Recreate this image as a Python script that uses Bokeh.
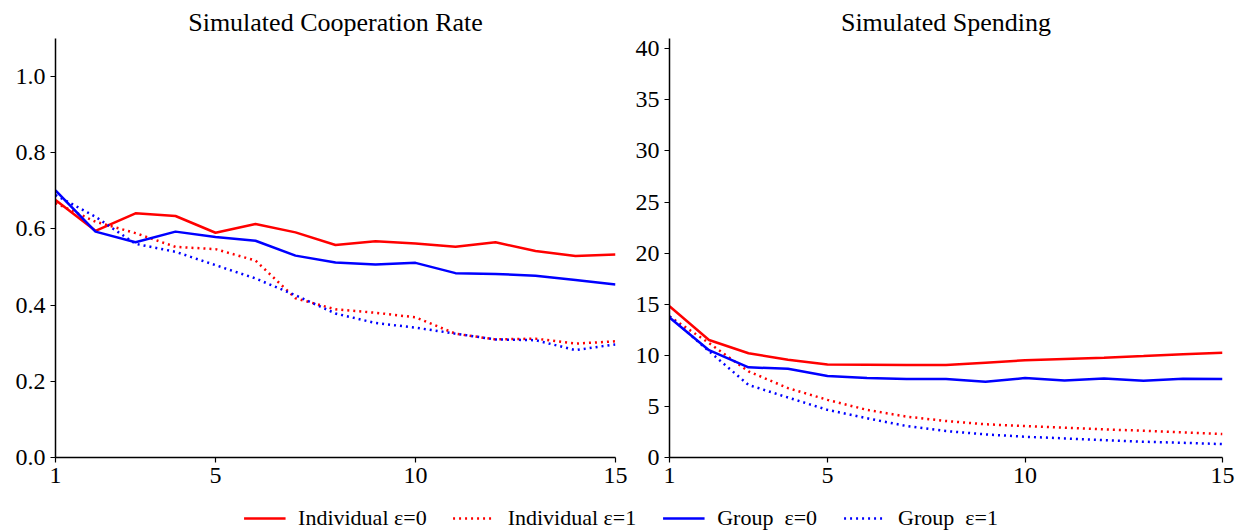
from bokeh.plotting import figure
from bokeh.layouts import column, row
from bokeh.models import Legend, LegendItem, FixedTicker, Range1d, NumeralTickFormatter
from bokeh.embed import file_html
from bokeh.resources import INLINE

rounds = list(range(1, 16))

coop_ind_e0 = [0.676, 0.595, 0.641, 0.634, 0.590, 0.613, 0.591, 0.558, 0.568, 0.562, 0.553, 0.565, 0.542, 0.529, 0.533]
coop_ind_e1 = [0.668, 0.619, 0.589, 0.553, 0.547, 0.517, 0.418, 0.389, 0.380, 0.368, 0.325, 0.310, 0.312, 0.299, 0.305]
coop_grp_e0 = [0.701, 0.593, 0.565, 0.593, 0.579, 0.569, 0.530, 0.512, 0.507, 0.511, 0.484, 0.482, 0.477, 0.466, 0.454]
coop_grp_e1 = [0.689, 0.632, 0.561, 0.540, 0.505, 0.470, 0.426, 0.378, 0.353, 0.341, 0.325, 0.310, 0.308, 0.282, 0.297]

spend_ind_e0 = [14.8, 11.5, 10.2, 9.57, 9.11, 9.08, 9.05, 9.05, 9.28, 9.51, 9.64, 9.77, 9.93, 10.1, 10.26]
spend_ind_e1 = [13.8, 11.2, 8.43, 6.79, 5.64, 4.66, 4.0, 3.57, 3.25, 3.08, 2.92, 2.75, 2.62, 2.46, 2.3]
spend_grp_e0 = [13.7, 10.5, 8.82, 8.69, 7.97, 7.77, 7.67, 7.67, 7.41, 7.77, 7.54, 7.74, 7.51, 7.7, 7.67]
spend_grp_e1 = [13.8, 10.4, 7.1, 5.87, 4.66, 3.84, 3.08, 2.59, 2.26, 2.03, 1.87, 1.7, 1.54, 1.44, 1.31]

x_ticks = [1, 5, 10, 15]
coop_ticks = [0.0, 0.2, 0.4, 0.6, 0.8, 1.0]
spend_ticks = [0, 5, 10, 15, 20, 25, 30, 35, 40]

labels = ["Individual \u03b5=0", "Individual \u03b5=1", "Group  \u03b5=0", "Group  \u03b5=1"]
colors = ["red", "red", "blue", "blue"]
dashes = ["solid", "2 4", "solid", "2 4"]

FONT = "Liberation Serif"
LW = 2.5


def make_fig(title, width, ymax, yticks, border_left, border_right, series, fmt):
    p = figure(width=width, height=495, output_backend="svg", toolbar_location=None,
               x_range=Range1d(1, 15), y_range=Range1d(0, ymax),
               min_border_left=border_left, min_border_right=border_right,
               min_border_top=38, min_border_bottom=38)
    p.title.text = title
    p.title.align = "center"
    p.title.text_font = FONT
    p.title.text_font_size = "26px"
    p.title.text_font_style = "normal"
    p.title.text_color = "black"
    p.title.standoff = 3
    p.outline_line_color = None
    p.grid.visible = False
    p.background_fill_color = "white"
    p.border_fill_color = "white"
    for ax in (p.xaxis, p.yaxis):
        ax.axis_line_color = "black"
        ax.axis_line_width = 1.5
        ax.major_tick_line_color = "black"
        ax.major_tick_line_width = 1.2
        ax.major_tick_out = 5
        ax.major_tick_in = 0
        ax.minor_tick_line_color = None
        ax.major_label_text_font = FONT
        ax.major_label_text_font_size = "24px"
        ax.major_label_text_color = "black"
        ax.major_label_standoff = 5
    p.xaxis.ticker = FixedTicker(ticks=x_ticks)
    p.yaxis.ticker = FixedTicker(ticks=yticks)
    if fmt:
        p.yaxis.formatter = NumeralTickFormatter(format=fmt)
    for ys, c, d in zip(series, colors, dashes):
        p.line(rounds, ys, line_color=c, line_width=LW, line_dash=d)
    return p


p1 = make_fig("Simulated Cooperation Rate", 630, 1.1, coop_ticks, 55, 15,
              [coop_ind_e0, coop_ind_e1, coop_grp_e0, coop_grp_e1], "0.0")
p2 = make_fig("Simulated Spending", 611, 41, spend_ticks, 39, 19,
              [spend_ind_e0, spend_ind_e1, spend_grp_e0, spend_grp_e1], None)

pl = figure(width=1241, height=36, output_backend="svg", toolbar_location=None,
            x_axis_location=None, y_axis_location=None,
            x_range=Range1d(0, 1), y_range=Range1d(0, 1),
            min_border_left=0, min_border_right=0, min_border_top=10, min_border_bottom=0)
pl.outline_line_color = None
pl.grid.visible = False
items = []
for lab, c, d in zip(labels, colors, dashes):
    r = pl.line([-5, -4], [-5, -4], line_color=c, line_width=LW, line_dash=d)
    items.append(LegendItem(label=lab, renderers=[r]))
leg = Legend(items=items, orientation="horizontal", location="center",
             label_text_font=FONT, label_text_font_size="22px", label_text_color="black",
             glyph_width=42, glyph_height=20, label_standoff=13, spacing=26,
             padding=0, margin=0, border_line_color=None, background_fill_alpha=0)
pl.add_layout(leg, "center")

layout = column(row(p1, p2), pl)
open("out.html", "w").write(file_html(layout, INLINE))
